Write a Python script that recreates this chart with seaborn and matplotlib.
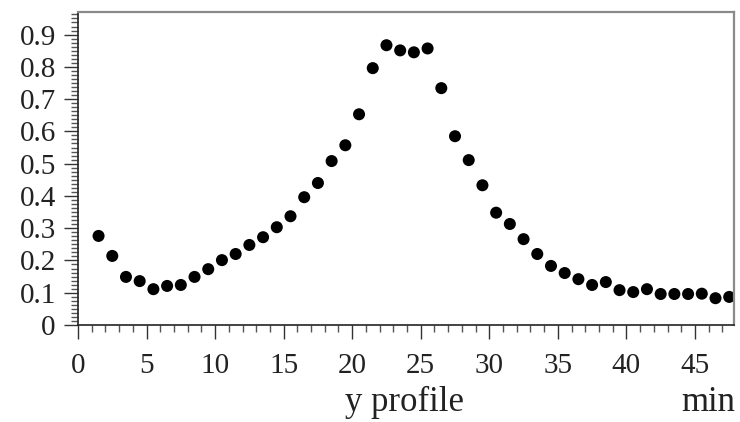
import numpy as np
import pandas as pd
import seaborn as sns
import matplotlib
matplotlib.use('Agg')
import matplotlib.pyplot as plt
from matplotlib.ticker import MultipleLocator

## Data
position = [1.5, 2.5, 3.5, 4.5, 5.5, 6.5, 7.5, 8.5, 9.5, 10.5,
            11.5, 12.5, 13.5, 14.5, 15.5, 16.5, 17.5, 18.5, 19.5, 20.5,
            21.5, 22.5, 23.5, 24.5, 25.5, 26.5, 27.5, 28.5, 29.5, 30.5,
            31.5, 32.5, 33.5, 34.5, 35.5, 36.5, 37.5, 38.5, 39.5, 40.5,
            41.5, 42.5, 43.5, 44.5, 45.5, 46.5, 47.5]
profile = [0.276, 0.214, 0.149, 0.136, 0.111, 0.121, 0.124, 0.149, 0.173, 0.201,
           0.220, 0.248, 0.272, 0.303, 0.337, 0.396, 0.440, 0.508, 0.557, 0.653,
           0.796, 0.867, 0.851, 0.845, 0.857, 0.734, 0.585, 0.511, 0.433, 0.348,
           0.313, 0.266, 0.220, 0.183, 0.161, 0.142, 0.124, 0.133, 0.108, 0.102,
           0.111, 0.096, 0.096, 0.096, 0.097, 0.083, 0.087]
xticks = [0, 5, 10, 15, 20, 25, 30, 35, 40, 45]
yticks = [0, 0.1, 0.2, 0.3, 0.4, 0.5, 0.6, 0.7, 0.8, 0.9]
ytick_labels = ['0', '0.1', '0.2', '0.3', '0.4', '0.5', '0.6', '0.7', '0.8', '0.9']

df = pd.DataFrame({'position': position, 'profile': profile})

sns.set_style('white')
plt.rcParams['font.family'] = ['Liberation Serif', 'DejaVu Serif']

fig = plt.figure(figsize=(7.4, 4.22), dpi=100)
ax = fig.add_axes([0.1054, 0.2299, 0.8865, 0.7417])

sns.scatterplot(data=df, x='position', y='profile', color='black',
                s=75, edgecolor='none', ax=ax)

ax.set_xlim(0, 47.85)
ax.set_ylim(0, 0.97)
ax.set_xticks(xticks)
ax.set_yticks(yticks)
ax.set_yticklabels(ytick_labels)
ax.xaxis.set_minor_locator(MultipleLocator(1))
ax.yaxis.set_minor_locator(MultipleLocator(0.0125))

ax.tick_params(axis='both', which='major', direction='out', length=10, width=1,
               color='#333333', labelsize=21, labelcolor='#222222')
ax.tick_params(axis='x', which='major', pad=10)
ax.tick_params(axis='y', which='major', pad=6)
ax.tick_params(axis='both', which='minor', direction='out', length=5, width=1,
               color='#555555')
ax.tick_params(top=False, right=False, which='both')
ax.tick_params(axis='x', bottom=True, which='both')
ax.tick_params(axis='y', left=True, which='both')

for side in ['left', 'bottom']:
    ax.spines[side].set_color('#222222')
    ax.spines[side].set_linewidth(1.2)
for side in ['top', 'right']:
    ax.spines[side].set_color('#8a8a8a')
    ax.spines[side].set_linewidth(1.6)

ax.set_xlabel('')
ax.set_ylabel('')
# axis captions sit on a common baseline under the tick labels
fig.text(0.5466, 0.026, 'y profile', ha='center', va='baseline',
         fontsize=25, color='#222222')
fig.text(0.993, 0.026, 'min', ha='right', va='baseline',
         fontsize=25, color='#222222')

plt.savefig('out.png', dpi=100)
